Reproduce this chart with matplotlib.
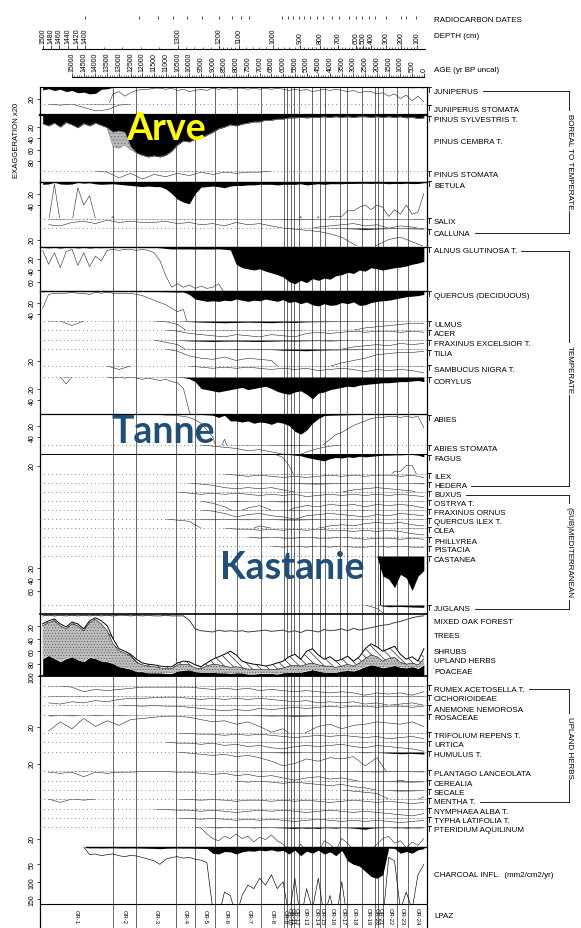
import numpy as np
import matplotlib
matplotlib.use("Agg")
import matplotlib.pyplot as plt
from matplotlib.lines import Line2D

plt.rcParams['font.family'] = ['Liberation Sans Narrow', 'Liberation Sans', 'DejaVu Sans']
plt.rcParams['hatch.linewidth'] = 0.4

# ---------------- data ----------------
# sample ages (yr BP uncal), old -> young
AGES = np.arange(16250, -1, -250)        # 66 samples
AGES_MINOR = np.arange(16000, -1, -500)  # 33 samples

AGE_TICKS = np.arange(15000, -1, -500)
DEPTH_CM = [1500, 1480, 1460, 1440, 1420, 1400, 1300, 1200, 1100, 1000, 900, 800, 700, 600, 500, 400, 300, 200, 100]
DEPTH_AGE = [16236, 15895, 15554, 15170, 14787, 14446, 10481, 8733, 7881, 6431, 5280, 4428, 3660, 2893, 2594, 2253, 1614, 975, 293]
RC_AGES = [14450, 12140, 11330, 10690, 10100, 9460, 8730, 8180, 7800, 7450, 6050, 5790, 5580, 5320, 5110,
           4850, 4560, 4300, 3920, 3620, 3190, 2890, 2640, 2340, 2080, 1610, 980, 760, 340]
ZONE_BOUNDS = [13250, 12270, 10570, 9760, 8900, 7970, 6940, 5960, 5830, 5660, 5540, 5320, 4770,
               4430, 4210, 3580, 3280, 2640, 2080, 1950, 1740, 1150, 680]
LPAZ = ["OR-%d" % i for i in range(1, 25)]

# main taxa (%), on AGES
JUNIPERUS = [5, 3, 6, 4, 8, 6, 10, 9, 12, 11,
             4, 3, 0.6, 0.4, 0.8, 0.5, 0.3, 0.2, 0.2, 0.1,
             0.1, 0.2, 0.1, 0.3, 0.2, 0.4, 0.3, 0.2, 0.3, 0.1,
             0.2, 0.1, 0.2, 0.1, 0.1, 0.2, 0.1, 0.2, 0.1, 0.2,
             0.1, 0.2, 0.3, 0.2, 0.3, 0.2, 0.4, 0.3, 0.2, 0.3,
             0.2, 0.3, 0.4, 0.3, 0.5, 0.4, 0.4, 0.6, 0.5, 0.8,
             0.6, 1.0, 0.7, 1.2, 0.8, 1.3]
PINUS_SYLVESTRIS = [15, 19, 14, 21, 13, 17, 22, 15, 19, 14,
                    18, 22, 30, 28, 30, 55, 66, 70, 73, 71,
                    73, 70, 63, 52, 45, 47, 42, 40, 35, 30,
                    24, 21, 17, 19, 16, 14, 12, 12, 9, 9,
                    7, 7, 5, 5, 4, 5, 4, 4, 3, 4,
                    3, 4, 3, 4, 3, 3, 4, 3, 4, 3,
                    4, 3, 5, 4, 6, 5]
PINUS_CEMBRA = [0] * 12 + [25, 30, 22, 5] + [0] * 50
BETULA = [4, 3.5, 0.2, 3.5, 4, 3.5, 0.5, 2.0, 1.2, 3.2,
          4, 3.5, 3, 4, 5, 6, 7, 8, 7, 8,
          8, 12, 20, 30, 35, 38, 20, 9, 8, 7,
          8, 10, 7, 6, 6, 5, 5, 4, 4, 4,
          5, 4, 4, 4, 3, 5, 4, 3, 4, 3,
          3, 3, 2.5, 2.5, 2.2, 2.0, 2.4, 2.0, 2.2, 3.0,
          2.4, 2.8, 2.0, 2.8, 2.6, 1.0]
ALNUS = [0.3, 1.5, 0.5, 1.8, 0.4, 0.2, 1.6, 0.5, 1.7, 0.8,
         1.2, 0.3, 0.2, 0.3, 0.2, 0.2, 0.3, 0.2, 0.3, 0.5,
         1.2, 2.5, 3.5, 3.2, 3.5, 3.3, 3.6, 3.4, 3.6, 3.5,
         3.2, 4, 5, 30, 36, 38, 40, 38, 42, 45,
         48, 52, 60, 64, 58, 62, 55, 58, 54, 56,
         50, 48, 44, 46, 40, 42, 36, 38, 40, 38,
         36, 35, 33, 30, 28, 25]
QUERCUS = [1.5, 0.3, 0.2, 0.2, 0.2, 0.1, 0.2, 0.2, 0.3, 0.1,
           0.2, 0.1, 0.2, 0.2, 0.2, 0.2, 0.3, 0.4, 0.6, 0.8,
           1.0, 1.2, 1.5, 1.8, 1.6, 6, 14, 16, 18, 17,
           18, 16, 17, 14, 16, 18, 16, 17, 14, 16,
           18, 15, 20, 18, 22, 19, 24, 26, 22, 25,
           24, 20, 22, 19, 25, 24, 20, 18, 17, 16,
           14, 12, 10, 9, 8, 6]
CORYLUS = [0, 0, 0, 0, 0.6, 0, 0, 0, 0, 0,
           0, 0, 0.1, 0, 0.1, 0, 0.1, 0.2, 0.1, 0.2,
           0.3, 0.2, 0.4, 0.5, 1.0, 3, 8, 20, 22, 24,
           26, 24, 22, 20, 18, 22, 20, 18, 16, 20,
           25, 28, 30, 26, 24, 30, 38, 28, 26, 22,
           20, 18, 16, 17, 14, 13, 12, 11, 10, 10,
           9, 8, 8, 7, 6, 8]
ABIES = [0, 0, 0, 0, 0, 0, 0, 0, 0, 0,
         0, 0, 0, 0, 0, 0, 0, 0, 0, 0.05,
         0.05, 0.1, 0.1, 0.15, 0.2, 0.3, 0.5, 0.8, 1.4, 2.0,
         6, 2.2, 12, 12, 14, 12, 16, 14, 15, 18,
         14, 16, 20, 30, 35, 28, 16, 8, 2.6, 2.2,
         1.8, 1.6, 1.3, 1.0, 0.8, 0.6, 0.4, 0.3, 0.3, 0.2,
         0.2, 0.3, 0.2, 0.3, 0.2, 1.2]
FAGUS = [0] * 40 + [0.1, 0.3, 1, 2, 3, 6, 8, 10, 12, 8,
                    6, 7, 5, 6, 4, 5, 4, 3, 2, 2,
                    1.5, 1.5, 1, 1, 2, 5]
CASTANEA = [0] * 57 + [0.5, 35, 40, 55, 32, 38, 60, 35, 25]
PTERIDIUM = [0] * 27 + [0.1, 0.6, 1.0] + [1.2, 0.8, 1.0, 0.6, 1.0, 0.8, 1.3, 0.9, 1.1, 0.7,
                                          1.2, 1.5, 2.0, 2.5, 1.5, 2.2, 1.8, 2.5, 1.2, 1.5,
                                          2.0, 1.0, 1.4, 2.0, 3.0, 4.0, 2.0, 1.5, 1.0, 0.8,
                                          1.4, 1.2, 1.8, 1.3, 1.6, 1.0]
# charcoal influx (mm2/cm2/yr)
CHARCOAL = [np.nan] * 7 + [0, 2.2, 2.0,
            2.5, 2.2, 2.0, 2.5, 2.8, 2.4, 2.6, 3.0, 3.5, 4.0,
            5.0, 3.5, 3.0, 2.8, 3.2, 3.0, 3.5, 3.8, 4.5, 18,
            20, 13, 14, 20, 14, 11, 12, 9, 11, 8,
            12, 10, 20, 9, 25, 12, 18, 9, 20, 14,
            25, 10, 40, 50, 55, 70, 85, 90, 80, 3,
            4, 18, 13, 18, 8, 5]

# summary diagram (%)
MIXED_OAK_FOREST = [3, 2, 3, 2, 3, 2, 3, 2, 3, 2,
                    3, 2, 3, 2, 2, 3, 2, 3, 2, 3,
                    3, 2, 3, 3, 3, 10, 24, 27, 28, 29,
                    26, 28, 27, 28, 27, 29, 28, 27, 26, 28,
                    27, 26, 29, 27, 30, 26, 27, 29, 25, 27,
                    26, 24, 27, 23, 26, 24, 22, 20, 18, 17,
                    14, 12, 9, 6, 4, 3]
SHRUBS = [3, 3, 3, 3, 3, 3, 3, 3, 3, 3, 5, 8, 8, 3, 3, 3, 5, 3, 3, 3,
          3, 3, 3, 3, 5, 5, 5, 3, 5, 8, 13, 19, 26, 19, 11, 10, 8, 8, 6, 8,
          10, 11, 15, 18, 11, 21, 23, 16, 11, 15, 10, 11, 13, 8, 10, 16, 18, 16, 16, 16,
          18, 13, 8, 10, 6, 16]
UPLAND_HERBS = [53, 53, 61, 58, 48, 53, 55, 50, 56, 63, 60, 50, 32, 26, 24, 21, 15, 11, 11, 10,
                8, 8, 8, 10, 10, 8, 6, 6, 10, 13, 13, 11, 10, 10, 8, 8, 8, 6, 6, 6,
                8, 8, 10, 11, 10, 11, 11, 10, 10, 10, 8, 8, 10, 8, 10, 13, 16, 15, 11, 13,
                13, 8, 6, 6, 6, 10]
POACEAE = [28, 33, 28, 23, 28, 31, 26, 23, 30, 28, 24, 23, 20, 15, 13, 11, 7, 7, 5, 5,
           5, 4, 4, 8, 9, 10, 7, 6, 6, 6, 5, 5, 4, 5, 5, 3, 3, 4, 4, 4,
           3, 5, 6, 6, 6, 8, 10, 8, 6, 6, 6, 8, 9, 8, 11, 15, 18, 16, 13, 15,
           17, 14, 13, 15, 12, 18]

# minor taxa (%), on AGES_MINOR
JUNIPERUS_STOMATA = [0, 0.1, 0, 0.3, 0.6, 0.5, 0.1] + [0] * 26
PINUS_STOMATA = [0, 0, 0, 0, 0, 0.1, 0.6, 0.2, 0.7, 0.3, 0.5, 0.2, 0.4, 0.1, 0.3, 0.1, 0.2, 0.1, 0.1] + [0] * 14
SALIX = [0.5, 0.6, 0.3, 0.2, 0.4, 0.1, 0.3, 0.2, 0.3, 0.3, 0.2, 0.4, 0.3, 0.5, 0.4, 0.6, 0.3,
         0.5, 0.4, 0.6, 0.8, 1.0, 0.9, 0.7, 0.6, 0.5, 0.4, 0.6, 0.5, 0.8, 0.6, 0.7, 0.9]
CALLUNA = [0] * 21 + [0.1, 0.2, 0.3, 0.5, 0.8, 1.4, 2.5, 1.5, 1.0, 0.8, 1.2, 1.6]
ULMUS = [0, 0, 0.4, 0, 0, 0, 0, 0, 0, 0, 0.05, 0.3, 1.0, 2.0, 2.5, 3.0, 2.5, 2.0, 2.5, 3.0,
         2.0, 2.5, 1.5, 1.2, 1.0, 0.8, 0.8, 0.6, 0.5, 0.4, 0.3, 0.2, 0.2]
ACER = [0] * 11 + [0.1, 0.3, 0.4, 0.5, 0.6, 0.4, 0.5, 0.6, 0.4, 0.5, 0.6, 0.3, 0.2, 0.3, 0.2,
                   0.1, 0.2, 0.1, 0.1, 0.2, 0.1, 0.2]
FRAXINUS_EXCELSIOR = [0] * 10 + [0.2, 0.4, 1.5, 2.0, 2.5, 2.0, 1.8, 2.2, 2.5, 2.0, 1.5, 1.8,
                                 1.2, 1.0, 1.5, 0.8, 0.6, 0.5, 0.4, 0.5, 0.3, 0.4, 0.3]
TILIA = [0] * 11 + [0.2, 0.6, 0.8, 0.9, 0.7, 1.0, 0.8, 0.9, 1.0, 2.0, 2.5, 3.0, 2.0, 1.5,
                    1.2, 1.0, 0.8, 0.5, 0.4, 0.3, 0.3, 0.2]
SAMBUCUS = [0, 0, 0, 0, 0, 0, 0.3, 0, 0, 0, 0, 0, 0, 0.1, 0.2, 0.1, 0.2, 0.1, 0.2, 0.3,
            0.2, 0.3, 0.2, 0.4, 0.3, 0.2, 0.3, 0.5, 0.3, 0.4, 0.3, 0.4, 0.6]
ABIES_STOMATA = [0] * 14 + [0.1, 0.2, 0.3, 0.5, 0.4, 0.6, 0.8, 1.0, 0.6, 0.3, 0.1] + [0] * 8
ILEX = [0] * 16 + [0.1, 0.2, 0.1, 0.2, 0.3, 0.2, 0.3, 0.2, 0.1, 0.2, 0.1, 0.2, 0.1, 0.1, 0.2, 0.1, 0.3]
HEDERA = [0] * 13 + [0.1, 0.2, 0.4, 0.5, 0.4, 0.5, 0.4, 0.6, 0.8, 1.2, 1.5, 1.0, 0.8, 0.6,
                     0.5, 0.4, 0.5, 0.6, 0.7, 1.2]
BUXUS = [0] * 12 + [0.1, 0.2, 0.1, 0.2, 0.1, 0.2, 0.3, 0.2, 0.3, 0.2, 0.4, 0.3, 0.2, 0.3,
                    0.2, 0.3, 0.2, 0.3, 0.2, 0.3, 0.4]
OSTRYA = [0] * 14 + [0.2, 0.5, 1.0, 0.6, 0.4, 0.8, 1.2, 0.6, 0.4, 0.5, 0.3, 0.4, 0.3, 0.5,
                     0.3, 0.4, 0.3, 0.4, 0.6]
FRAXINUS_ORNUS = [0] * 14 + [0.1, 0.3, 0.6, 0.4, 0.3, 0.5, 0.6, 0.8, 0.5, 0.4, 0.3, 0.4,
                             0.5, 0.6, 0.4, 0.5, 0.3, 0.4, 0.5]
QUERCUS_ILEX = [0] * 11 + [0.1, 0.2, 0.8, 1.0, 0.8, 0.9, 1.0, 0.6, 0.8, 1.2, 1.5, 1.0, 0.8,
                           0.6, 0.5, 0.6, 0.4, 0.3, 0.4, 0.3, 0.5, 0.6]
OLEA = [0] * 16 + [0.1, 0.1, 0.2, 0.1, 0.2, 0.1, 0.2, 0.1, 0.2, 0.2, 0.3, 0.2, 0.3, 0.2, 0.3, 0.5, 0.6]
PHILLYREA = [0] * 18 + [0.1, 0, 0.1, 0.1, 0, 0.1, 0.1, 0, 0.1, 0.2, 0.1, 0.1, 0.2, 0.1, 0.2]
PISTACIA = [0] * 20 + [0.1, 0, 0.1, 0, 0.1, 0, 0.1, 0.1, 0, 0.1, 0, 0.1, 0.1]
JUGLANS = [0] * 28 + [0.3, 3.0, 2.5, 3.5, 4.0]
RUMEX = [0, 0, 0.1, 0.5, 0.3, 0.4, 0.3, 0.2, 0.1, 0.1, 0.1, 0.1, 0.1, 0.2, 0.3, 0.2, 0.3,
         0.2, 0.4, 0.3, 0.4, 0.5, 0.4, 0.5, 0.6, 0.5, 0.6, 0.8, 0.6, 0.7, 0.6, 0.8, 0.5]
CICHORIOIDEAE = [0.6, 0.7, 0.5, 0.6, 0.4, 0.5, 0.3, 0.2, 0.2, 0.15, 0.1, 0.1, 0.2, 0.3, 0.2,
                 0.3, 0.2, 0.3, 0.2, 0.3, 0.4, 0.5, 0.4, 0.6, 0.5, 0.6, 0.5, 0.7, 0.6, 0.8, 0.7, 0.6, 0.8]
ANEMONE = [0] * 7 + [0.05, 0.1, 0.05, 0.1, 0.1, 0.2, 0.3, 0.4, 0.5, 0.4, 0.5, 0.3, 0.4, 0.3,
                     0.2, 0.3, 0.2, 0.1, 0.2, 0.1, 0.1, 0.2, 0.1, 0.1, 0.2, 0.1]
ROSACEAE = [1.4, 0.6, 1.2, 0.3, 1.0, 0.5, 0.9, 0.4, 0.3, 0.2, 0.1, 0.1, 0.2, 0.4, 0.6, 0.5, 0.8,
            0.6, 1.0, 1.5, 1.2, 2.0, 1.5, 1.0, 0.8, 1.2, 0.9, 0.8, 0.6, 0.7, 0.8, 0.6, 1.0]
TRIFOLIUM = [0] * 12 + [0.05, 0.1, 0.1, 0.2, 0.1, 0.2, 0.1, 0.2, 0.3, 0.4, 0.3, 0.2, 0.3, 0.2,
                        0.3, 0.4, 0.3, 0.5, 0.4, 0.3, 0.5]
URTICA = [0] * 11 + [0.1, 0.1, 0.2, 0.1, 0.3, 0.2, 0.4, 0.3, 0.5, 0.6, 0.4, 0.3, 0.4, 0.3,
                     0.2, 0.4, 0.5, 0.3, 0.4, 0.5, 0.6, 0.8]
HUMULUS = [0] * 12 + [0.1, 0.2, 0.3, 0.2, 0.4, 0.3, 0.5, 0.8, 1.2, 1.0, 0.6, 0.8, 0.5, 0.6,
                      0.4, 1.2, 0.5, 2.0, 3.0, 2.5, 3.5]
PLANTAGO = [0.1, 0.2, 0.1, 0.5, 0.1, 0.2, 0.1, 0.1, 0.05, 0.05, 0.05, 0.1, 0.1, 0.2, 0.3, 0.2,
            0.4, 0.3, 0.5, 0.4, 0.6, 0.8, 0.6, 0.5, 0.7, 0.6, 0.8, 1.0, 1.2, 1.0, 0.8, 1.0, 1.2]
CEREALIA = [0] * 16 + [0, 0.1, 0, 0.1, 0.2, 0.1, 0.2, 0.3, 0.4, 0.3, 0.5, 0.6, 0.8, 1.0, 1.2, 1.5, 1.0]
SECALE = [0] * 26 + [0.1, 0.2, 0.3, 0.8, 1.5, 1.2, 0.6]
MENTHA = [0, 0.3, 0, 0.1, 0, 0, 0, 0, 0, 0, 0, 0, 0.05, 0.1, 0.05, 0.1, 0.2, 0.1, 0.1, 0.2,
          0.1, 0.2, 0.1, 0.2, 0.3, 0.2, 0.1, 0.2, 0.3, 0.2, 0.3, 0.4, 0.3]
NYMPHAEA = [0] * 10 + [0.05, 0.1, 0.1, 0.2, 0.1, 0.2, 0.3, 0.2, 0.1, 0.2, 0.1, 0.2, 0.3, 0.2,
                       0.1, 0.2, 0.3, 0.2, 0.3, 0.4, 0.5, 0.6, 0.4]
TYPHA = [0] * 12 + [0.05, 0.1, 0.05, 0.1, 0.2, 0.1, 0.2, 0.1, 0.2, 0.3, 0.2, 0.1, 0.2, 0.3,
                    0.2, 0.3, 0.2, 0.3, 0.4, 0.3, 0.2]

# ---------------- layout (pixels of the 581 x 929 picture) ----------------
W, H = 581, 929
X0, X1 = 40, 427
AGE_LEFT, AGE_RIGHT = 16364, -134
PX_PER_PCT = 0.575
LABEL_SIZE = 5.8
LABEL_X = 434

MINOR_ROWS = [
    (JUNIPERUS_STOMATA, 105, 116, None), (PINUS_STOMATA, 172, 183, None),
    (SALIX, 220, 229, None), (CALLUNA, 229, 247, [20]),
    (ULMUS, 322, 331, None), (ACER, 331, 341, None), (FRAXINUS_EXCELSIOR, 341, 350, None),
    (TILIA, 350, 367, [20]), (SAMBUCUS, 367, 378, None), (ABIES_STOMATA, 446, 455, None),
    (ILEX, 475, 484, None), (HEDERA, 484, 493, None), (BUXUS, 493, 502, None),
    (OSTRYA, 502, 511, None), (FRAXINUS_ORNUS, 511, 520, None), (QUERCUS_ILEX, 520, 529, None),
    (OLEA, 529, 538, None), (PHILLYREA, 538, 547, None), (PISTACIA, 547, 557, None),
    (JUGLANS, 606, 615, None), (RUMEX, 687, 697, None), (CICHORIOIDEAE, 697, 706, None),
    (ANEMONE, 706, 716, None), (ROSACEAE, 716, 734, [20]), (TRIFOLIUM, 734, 743, None),
    (URTICA, 743, 753, None), (HUMULUS, 753, 772, [20]), (PLANTAGO, 772, 782, None),
    (CEREALIA, 782, 791, None), (SECALE, 791, 800, None), (MENTHA, 800, 810, None),
    (NYMPHAEA, 810, 819, None), (TYPHA, 819, 828, None),
]

LABELS = [("RADIOCARBON DATES", 20), ("DEPTH (cm)", 36), ("AGE (yr BP uncal)", 70),
          ("JUNIPERUS", 92), ("JUNIPERUS STOMATA", 110), ("PINUS SYLVESTRIS T.", 121),
          ("PINUS CEMBRA T.", 142), ("PINUS STOMATA", 176), ("BETULA", 186), ("SALIX", 223),
          ("CALLUNA", 234), ("ALNUS GLUTINOSA T.", 252), ("QUERCUS (DECIDUOUS)", 296),
          ("ULMUS", 326), ("ACER", 335), ("FRAXINUS EXCELSIOR T.", 345), ("TILIA", 355),
          ("SAMBUCUS NIGRA T.", 370), ("CORYLUS", 382), ("ABIES", 420), ("ABIES STOMATA", 450),
          ("FAGUS", 460), ("ILEX", 478), ("HEDERA", 487), ("BUXUS", 496), ("OSTRYA T.", 505),
          ("FRAXINUS ORNUS", 514), ("QUERCUS ILEX T.", 523), ("OLEA", 532), ("PHILLYREA", 542),
          ("PISTACIA", 551), ("CASTANEA", 561), ("JUGLANS", 610), ("MIXED OAK FOREST", 623),
          ("TREES", 636), ("SHRUBS", 653), ("UPLAND HERBS", 662), ("POACEAE", 672),
          ("RUMEX ACETOSELLA T.", 690), ("CICHORIOIDEAE", 700), ("ANEMONE NEMOROSA", 710),
          ("ROSACEAE", 719), ("TRIFOLIUM REPENS T.", 737), ("URTICA", 746), ("HUMULUS T.", 756),
          ("PLANTAGO LANCEOLATA", 775), ("CEREALIA", 785), ("SECALE", 794), ("MENTHA T.", 803),
          ("NYMPHAEA ALBA T.", 813), ("TYPHA LATIFOLIA T.", 822), ("PTERIDIUM AQUILINUM", 831),
          ("CHARCOAL INFL.  (mm2/cm2/yr)", 876), ("LPAZ", 917)]
NO_MARK = {"RADIOCARBON DATES", "DEPTH (cm)", "AGE (yr BP uncal)", "PINUS CEMBRA T.",
           "MIXED OAK FOREST", "TREES", "SHRUBS", "UPLAND HERBS", "POACEAE",
           "CHARCOAL INFL.  (mm2/cm2/yr)", "LPAZ"}

GROUPS = [("BOREAL TO TEMPERATE", "JUNIPERUS", "CALLUNA", 162),
          ("TEMPERATE", "ALNUS GLUTINOSA T.", "HEDERA", 370),
          ("(SUB)MEDITERRANEAN", "BUXUS", "JUGLANS", 553),
          ("UPLAND HERBS", "RUMEX ACETOSELLA T.", "MENTHA T.", 748)]

fig = plt.figure(figsize=(W / 100, H / 100), dpi=100)


def fx(x):
    return x / W


def fy(y):
    return 1 - y / H


def fline(xa, ya, xb, yb, lw=0.6):
    fig.add_artist(Line2D([fx(xa), fx(xb)], [fy(ya), fy(yb)], color='k', lw=lw,
                          transform=fig.transFigure))


def panel(top, bottom, vmax):
    ax = fig.add_axes([fx(X0), fy(bottom), fx(X1) - fx(X0), (bottom - top) / H])
    ax.set_xlim(AGE_LEFT, AGE_RIGHT)
    ax.set_ylim(vmax, 0)
    ax.patch.set_visible(False)
    for s in ax.spines.values():
        s.set_visible(False)
    ax.set_xticks([])
    ax.set_yticks([])
    return ax


def scale_ticks(ax, ticks):
    ax.set_yticks(ticks, [str(t) for t in ticks])
    ax.tick_params(axis='y', length=2, width=0.5, pad=1, labelsize=5, labelrotation=90)
    for t in ax.get_yticklabels():
        t.set_va('center')


def taxon(ages, values, top, bottom, exag=20, solid=False, ticks=None, lw=0.8):
    vmax = (bottom - top) / PX_PER_PCT
    ax = panel(top, bottom, vmax)
    v = np.asarray(values, dtype=float)
    if exag:
        ex = np.minimum(v * exag, vmax * 1.3)
        if not solid:
            keep = (v > 0) | (np.roll(v, 1) > 0) | (np.roll(v, -1) > 0)
            ex = np.where(keep, ex, np.nan)
        ax.plot(ages, ex, color='0.15', lw=0.4)
    ax.fill_between(ages, 0, v, color='k', lw=0)
    if solid:
        ax.axhline(0, color='k', lw=lw, clip_on=False)
    else:
        ax.axhline(0, color='0.35', lw=0.7, ls=(0, (0.7, 3.3)), clip_on=False)
    if ticks:
        scale_ticks(ax, ticks)
    return ax


# background frame, zone lines, LPAZ
bg = fig.add_axes([fx(X0), fy(929), fx(X1) - fx(X0), (929 - 88) / H])
bg.set_xlim(AGE_LEFT, AGE_RIGHT)
bg.set_ylim(929, 88)
bg.set_xticks([])
bg.set_yticks([])
bg.spines['top'].set_visible(False)
bg.spines['bottom'].set_visible(False)
for s in ('left', 'right'):
    bg.spines[s].set_linewidth(0.9)
for b in ZONE_BOUNDS:
    bg.axvline(b, color='0.3', lw=0.6)
bg.axhline(905, color='k', lw=0.8)
edges = [AGE_LEFT] + ZONE_BOUNDS + [AGE_RIGHT]
for name, lo, hi in zip(LPAZ, edges[:-1], edges[1:]):
    bg.text((lo + hi) / 2, 917, name, rotation=270, ha='center', va='center', fontsize=4.2)


# top axes: radiocarbon dates, depth, age
def top_axis(y, ticks, labels, minor=None, bounds=None, spine=True, length=3):
    ax = fig.add_axes([fx(X0), fy(y), fx(X1) - fx(X0), 1e-4])
    ax.set_xlim(AGE_LEFT, AGE_RIGHT)
    ax.patch.set_visible(False)
    for s in ('left', 'right', 'bottom'):
        ax.spines[s].set_visible(False)
    ax.spines['top'].set_visible(spine)
    ax.spines['top'].set_linewidth(0.8)
    if bounds:
        ax.spines['top'].set_bounds(*bounds)
    ax.set_yticks([])
    ax.set_xticks(ticks, labels, rotation=90, fontsize=5)
    if minor is not None:
        ax.set_xticks(minor, minor=True)
    ax.xaxis.tick_top()
    ax.tick_params(axis='x', which='major', length=length, width=0.5, pad=1)
    ax.tick_params(axis='x', which='minor', length=1.5, width=0.4)
    return ax


top_axis(20, RC_AGES, [''] * len(RC_AGES), spine=False, length=2.5)
order = np.argsort(DEPTH_CM)
depth_minor = np.interp(np.arange(100, 1501, 20), np.array(DEPTH_CM)[order], np.array(DEPTH_AGE)[order])
top_axis(50, DEPTH_AGE, [str(d) for d in DEPTH_CM], minor=depth_minor, bounds=(16300, -60))
top_axis(78, AGE_TICKS, [str(a) for a in AGE_TICKS], minor=np.arange(15000, -1, -100), bounds=(15000, 0))

# main taxa
taxon(AGES, JUNIPERUS, 88, 104, solid=True, ticks=[20])
for vals, top, bottom, ticks in MINOR_ROWS:
    taxon(AGES_MINOR, vals, top, bottom, ticks=ticks)

ax = taxon(AGES, PINUS_SYLVESTRIS, 116, 172, exag=0, solid=True, ticks=[20, 40, 60, 80], lw=1.6)
ps = np.asarray(PINUS_SYLVESTRIS, float)
ax.fill_between(AGES, ps, ps + np.asarray(PINUS_CEMBRA, float), facecolor='0.72', edgecolor='0.4',
                hatch='.....', lw=0.3)
taxon(AGES, BETULA, 183, 219, solid=True, ticks=[20, 40], lw=1.0)
taxon(AGES, ALNUS, 248, 292, solid=True, ticks=[20, 40, 60], lw=1.0)
taxon(AGES, QUERCUS, 292, 322, solid=True, ticks=[20, 40], lw=1.0)
taxon(AGES, CORYLUS, 378, 415, solid=False, ticks=[20, 40])
taxon(AGES, ABIES, 415, 446, solid=True, ticks=[20, 40], lw=0.9)
taxon(AGES, FAGUS, 455, 475, solid=True, ticks=[20], lw=0.7)
ax = taxon(AGES, CASTANEA, 557, 606, exag=0, solid=False, ticks=[20, 40, 60])
ax.axvline(1870, ymin=0, ymax=1, color='k', lw=0.7)
taxon(AGES, PTERIDIUM, 828, 848, solid=False, ticks=[20])

# summary diagram
ax = panel(615, 677, 100)
p = np.asarray(POACEAE, float)
h = np.asarray(UPLAND_HERBS, float)
s = np.asarray(SHRUBS, float)
ax.fill_between(AGES, 100 - p, 100, color='k', lw=0)
ax.fill_between(AGES, 100 - p - h, 100 - p, facecolor='0.75', edgecolor='0.35', hatch='......', lw=0)
ax.fill_between(AGES, 100 - p - h - s, 100 - p - h, facecolor='white', edgecolor='k', hatch='\\\\\\\\', lw=0)
ax.plot(AGES, 100 - p - h - s, color='k', lw=0.7)
ax.plot(AGES, 100 - p - h, color='k', lw=0.4)
ax.plot(AGES, MIXED_OAK_FOREST, color='0.25', lw=0.7)
ax.axhline(0, color='k', lw=1.2, clip_on=False)
ax.axhline(100, color='k', lw=1.2, clip_on=False)
scale_ticks(ax, [20, 40, 60, 80, 100])

# charcoal
ch_vmax = (905 - 848) / 0.347
ax = panel(848, 905, ch_vmax)
c = np.asarray(CHARCOAL, float)
ax.plot(AGES, np.minimum(c * 10, ch_vmax * 1.3), color='k', lw=0.45)
ax.fill_between(AGES, 0, c, color='k', lw=0)
ax.axhline(0, color='k', lw=1.0, xmin=0.12, clip_on=False)
scale_ticks(ax, [50, 100, 150])

# left-hand note
fig.text(fx(17), fy(140), 'EXAGGERATION x20', rotation=90, ha='center', va='center', fontsize=5.5)

# right-hand labels with their small tick marks
texts = {}
for name, y in LABELS:
    texts[name] = fig.text(fx(LABEL_X), fy(y), name, ha='left', va='center', fontsize=LABEL_SIZE)
    if name not in NO_MARK:
        fline(429, y - 4, 429, y + 1, lw=0.6)
        fline(427.5, y - 4, 430.5, y - 4, lw=0.6)

fig.canvas.draw()
for group, first, last, ymid in GROUPS:
    y1 = dict(LABELS)[first]
    y2 = dict(LABELS)[last]
    xa = texts[first].get_window_extent().x1 + 4
    xb = texts[last].get_window_extent().x1 + 4
    fline(xa, y1, 569, y1)
    fline(xb, y2, 569, y2)
    fline(569, y1, 569, y2)
    fig.text(fx(569), fy(ymid), group, rotation=270, ha='center', va='center', fontsize=LABEL_SIZE,
             bbox=dict(facecolor='white', edgecolor='none', pad=1.5))

# overlay annotations
fig.text(fx(126), fy(140), 'Arve', color='#FFFF00', fontsize=27, fontweight='bold',
         family='Lato', ha='left', va='baseline')
fig.text(fx(112), fy(443), 'Tanne', color='#1F4E79', fontsize=27, fontweight='bold',
         family='Lato', ha='left', va='baseline')
fig.text(fx(220), fy(579), 'Kastanie', color='#1F4E79', fontsize=27, fontweight='bold',
         family='Lato', ha='left', va='baseline')

fig.savefig('out.png', dpi=100, facecolor='white')
